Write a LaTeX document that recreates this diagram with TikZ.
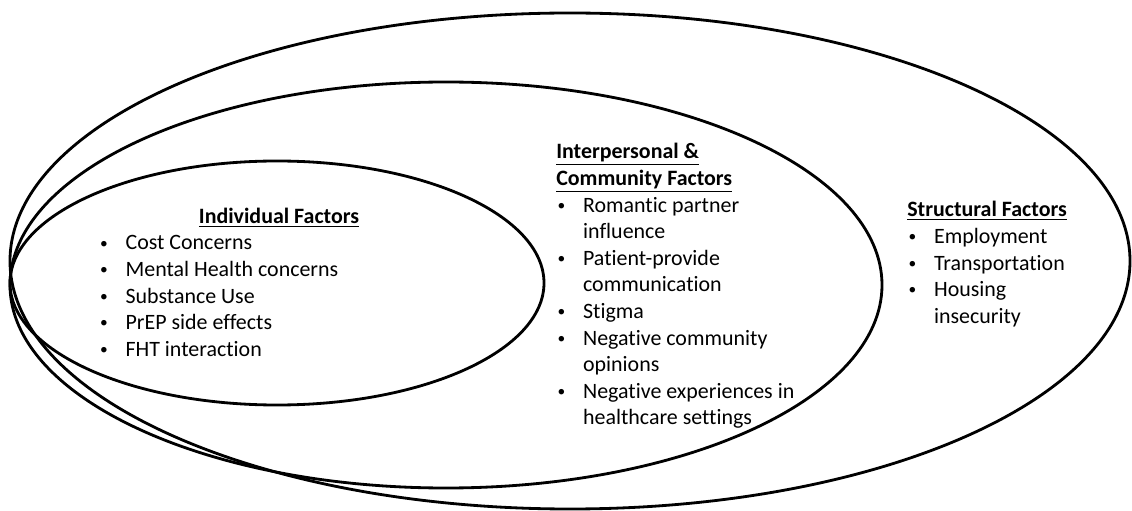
\documentclass[tikz,border=0pt]{standalone}
\usepackage{fontspec}
\setmainfont{Carlito}[Ligatures=NoCommon]
\usetikzlibrary{positioning}
\newcommand{\fhead}[1]{\underline{\textbf{#1}}}
\newcommand{\fbul}{\hspace*{1pt}\raisebox{1.3pt}{\fontsize{11}{11}\selectfont\textbullet}}
\tikzset{
  ring/.style={draw=black,line width=2pt},
  factors/.style={inner sep=0pt,font=\fontsize{15.6}{18.9}\selectfont,anchor=base west},
}

\begin{document}
\begin{tikzpicture}[x=0.025cm,y=-0.025cm]
  \useasboundingbox (0,0) rectangle (1132,511);
  % Nested rings
  \draw[ring] (570,261) ellipse [x radius=560, y radius=248];
  \draw[ring] (446,285) ellipse [x radius=436, y radius=203];
  \draw[ring] (277,283) ellipse [x radius=267, y radius=122];
  % Individual level
  \node[factors,anchor=base] (indhead) at (279,224) {\fhead{Individual Factors}};
  \node[factors] (indlist) at (98.5,250) {\begin{tabular}[t]{@{}p{0.67cm}@{}l@{}}
    \fbul & Cost Concerns\\
    \fbul & Mental Health concerns\\
    \fbul & Substance Use\\
    \fbul & PrEP side effects\\
    \fbul & FHT interaction
  \end{tabular}};
  % Interpersonal and community level
  \node[factors] (interlist) at (556,159) {\begin{tabular}[t]{@{}p{0.67cm}@{}l@{}}
    \multicolumn{2}{@{}l@{}}{\fhead{Interpersonal \&}}\\
    \multicolumn{2}{@{}l@{}}{\fhead{Community Factors}}\\
    \fbul & Romantic partner\\
          & influence\\
    \fbul & Patient-provide\\
          & communication\\
    \fbul & Stigma\\
    \fbul & Negative community\\
          & opinions\\
    \fbul & Negative experiences in\\
          & healthcare settings
  \end{tabular}};
  % Structural level
  \node[factors] (structlist) at (907,217) {\begin{tabular}[t]{@{}p{0.67cm}@{}l@{}}
    \multicolumn{2}{@{}l@{}}{\fhead{Structural Factors}}\\
    \fbul & Employment\\
    \fbul & Transportation\\
    \fbul & Housing\\
          & insecurity
  \end{tabular}};
\end{tikzpicture}
\end{document}
